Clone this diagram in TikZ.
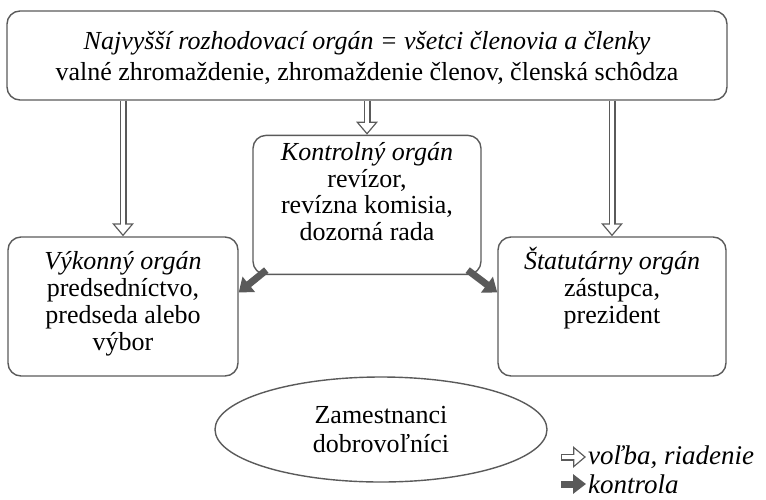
\documentclass[tikz,border=0pt]{standalone}
\usepackage{fontspec}
\setmainfont{Liberation Serif}
\usetikzlibrary{positioning,shapes.geometric,arrows.meta}
\definecolor{linegray}{HTML}{5A5A5A}
\tikzset{
  every node/.style={font=\fontsize{26}{26.7}\selectfont},
  organ/.style={draw=linegray, line width=1.4pt, rounded corners=13pt,
    align=center, inner sep=0pt},
  volba/.style={white, line width=4.4pt, shorten <=0.7pt,
    -{Triangle[length=9.6pt,width=15.6pt]}, shorten >=2.1pt,
    preaction={draw, linegray, line width=7pt, shorten <=0pt, shorten >=0pt,
      -{Triangle[length=13pt,width=21pt]}}},
  kontrola/.style={draw=linegray, line width=7pt,
    -{Triangle[length=13pt,width=19pt]}},
  legenda/.style={anchor=west, inner sep=2pt, font=\fontsize{27}{28}\selectfont\itshape},
}
\begin{document}
\begin{tikzpicture}[x=1pt,y=-1pt]
  \useasboundingbox (0,0) rectangle (766,499);

  \node (top) [organ, minimum width=720pt, minimum height=89pt,
    text height=49pt, text depth=0pt]
    at (367,55.5) {\textit{Najvyšší rozhodovací orgán = všetci členovia a členky}\\[4.3pt]
    valné zhromaždenie, zhromaždenie členov, členská schôdza};
  \node (ctrl) [organ, below=34pt of top, minimum width=228pt, minimum height=139pt,
    text height=98.1pt, text depth=27.1pt]
    {\textit{Kontrolný orgán}\\revízor,\\revízna komisia,\\dozorná rada};
  \node (vyk) [organ, minimum width=230pt, minimum height=139pt,
    text height=98.1pt, text depth=11.1pt]
    at (123,306.5) {\textit{Výkonný orgán}\\predsedníctvo,\\predseda alebo\\výbor};
  \node (stat) [organ, minimum width=228pt, minimum height=139pt,
    text height=71.4pt, text depth=38.4pt]
    at (612,306.5) {\textit{Štatutárny orgán}\\zástupca,\\prezident};
  \node (emp) [ellipse, draw=linegray, line width=1.4pt, minimum width=332pt,
    minimum height=105pt, inner sep=0pt, align=center]
    at (381,429.5) {Zamestnanci\\[3pt]dobrovoľníci};

  % volba, riadenie
  \draw[volba] (top.south -| vyk.north) -- (vyk.north);
  \draw[volba] (top) -- (ctrl);
  \draw[volba] (top.south -| stat.north) -- (stat.north);

  % kontrola
  \draw[kontrola] ([xshift=14pt,yshift=5pt]ctrl.south west) -- ([yshift=14pt]vyk.east);
  \draw[kontrola] ([xshift=-14pt,yshift=5pt]ctrl.south east) -- ([yshift=14pt]stat.west);

  % legenda
  \node (leg1) [legenda] at (586,457) {voľba, riadenie};
  \node (leg2) [legenda] at (586,484) {kontrola};
  \coordinate (l1) at (561,457);
  \coordinate (l2) at (561,484);
  \draw[volba] (l1) -- (leg1);
  \draw[kontrola] (l2) -- (leg2);
\end{tikzpicture}
\end{document}
